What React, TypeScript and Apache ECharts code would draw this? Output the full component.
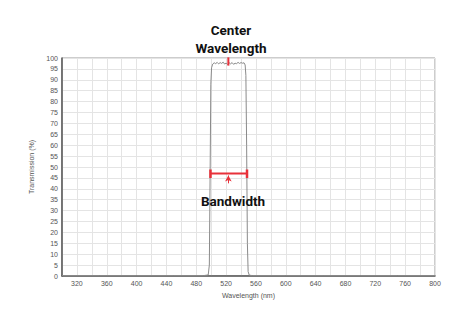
import React, { useEffect, useRef } from "react";
import * as echarts from "echarts";

const wavelengths = [300, 350, 400, 450, 490, 496, 497.5, 498.5, 499.5, 500.5, 502, 504, 506, 508, 510, 512, 514, 516, 518, 520, 522, 524, 526, 528, 530, 532, 534, 536, 538, 540, 542, 544, 545.5, 546.5, 547.5, 548.5, 549.5, 551, 555, 600, 650, 700, 750, 800];
const transmission = [0.2, 0.2, 0.2, 0.2, 0.2, 0.5, 5, 45, 88, 95.5, 97.2, 97.8, 97.4, 98.0, 97.3, 97.9, 97.5, 98.1, 97.2, 97.7, 97.0, 97.8, 97.3, 97.9, 97.1, 97.6, 97.4, 98.0, 97.5, 97.9, 97.6, 97.8, 96.8, 92, 60, 15, 2, 0.4, 0.2, 0.2, 0.2, 0.2, 0.2, 0.2];

const xTicks = [320, 360, 400, 440, 480, 520, 560, 600, 640, 680, 720, 760, 800];
const centerWl = 523;
const bandLow = 499;
const bandHigh = 548;
const bandLevel = 47;

export default function App() {
  const ref = useRef<HTMLDivElement>(null);
  useEffect(() => {
    if (!ref.current) return;
    const chart = echarts.init(ref.current, null, { renderer: "svg" });
    const red = "#e8313a";
    const lineData = wavelengths.map((w, i) => [w, transmission[i]]);
    chart.setOption({
      animation: false,
      backgroundColor: "#ffffff",
      grid: { left: 62, right: 39, top: 58, bottom: 40, show: true, borderColor: "#9a9a9a", borderWidth: 1 },
      xAxis: {
        type: "value",
        min: 300,
        max: 800,
        interval: 20,
        name: "Wavelength (nm)",
        nameLocation: "middle",
        nameGap: 14,
        nameTextStyle: { fontSize: 7, color: "#555", fontFamily: "Liberation Sans" },
        axisLine: { show: true, lineStyle: { color: "#555", width: 1.5 } },
        axisTick: { show: false },
        axisLabel: {
          fontSize: 7,
          color: "#555",
          margin: 4,
          fontFamily: "Liberation Sans",
          formatter: (v: number) => (xTicks.includes(v) ? String(v) : ""),
        },
        splitLine: {
          show: true,
          lineStyle: { color: "#e4e4e4", width: 1 },
          interval: (idx: number, v: any) => xTicks.includes(Number(v)),
        },
      },
      yAxis: {
        type: "value",
        min: 0,
        max: 100,
        interval: 5,
        name: "Transmission (%)",
        nameLocation: "middle",
        nameGap: 16,
        nameTextStyle: { fontSize: 7, color: "#555", fontFamily: "Liberation Sans" },
        axisLine: { show: true, lineStyle: { color: "#555", width: 1.5 } },
        axisTick: { show: false },
        axisLabel: { fontSize: 7, color: "#555", margin: 4, fontFamily: "Liberation Sans" },
        splitLine: { show: true, lineStyle: { color: "#e4e4e4", width: 1 } },
      },
      graphic: [
        {
          type: "text",
          x: 231,
          y: 21,
          z: 100,
          style: {
            text: "Center\nWavelength",
            fill: "#111",
            font: "bold 13.5px Roboto",
            textAlign: "center",
            lineHeight: 18,
          },
        },
        {
          type: "text",
          x: 233,
          y: 194,
          z: 100,
          style: {
            text: "Bandwidth",
            fill: "#111",
            font: "bold 13.5px Roboto",
            textAlign: "center",
          },
        },
      ],
      series: [
        {
          type: "line",
          data: lineData,
          showSymbol: false,
          symbol: "none",
          lineStyle: { color: "#8a8a8a", width: 1 },
          z: 3,
        },
        {
          type: "line",
          data: [[centerWl, 100.3], [centerWl, 96.5]],
          symbol: "none",
          lineStyle: { color: red, width: 2 },
          z: 5,
        },
        {
          type: "line",
          data: [[bandLow, bandLevel], [bandHigh, bandLevel]],
          symbol: "none",
          lineStyle: { color: red, width: 2 },
          z: 5,
          markLine: {
            silent: true,
            symbol: ["none", "arrow"],
            symbolSize: [5, 6],
            label: { show: false },
            lineStyle: { color: red, width: 1, type: "solid" },
            data: [[{ coord: [centerWl, bandLevel - 4.5] }, { coord: [centerWl, bandLevel - 0.9] }]],
          },
        },
        {
          type: "line",
          data: [[bandLow, bandLevel - 2], [bandLow, bandLevel + 1.8]],
          symbol: "none",
          lineStyle: { color: red, width: 2.5 },
          z: 5,
        },
        {
          type: "line",
          data: [[bandHigh, bandLevel - 2], [bandHigh, bandLevel + 1.8]],
          symbol: "none",
          lineStyle: { color: red, width: 2.5 },
          z: 5,
        },
      ],
    });
    return () => chart.dispose();
  }, []);
  return <div ref={ref} style={{ position: "fixed", left: 0, top: 0, width: 474, height: 316 }} />;
}
